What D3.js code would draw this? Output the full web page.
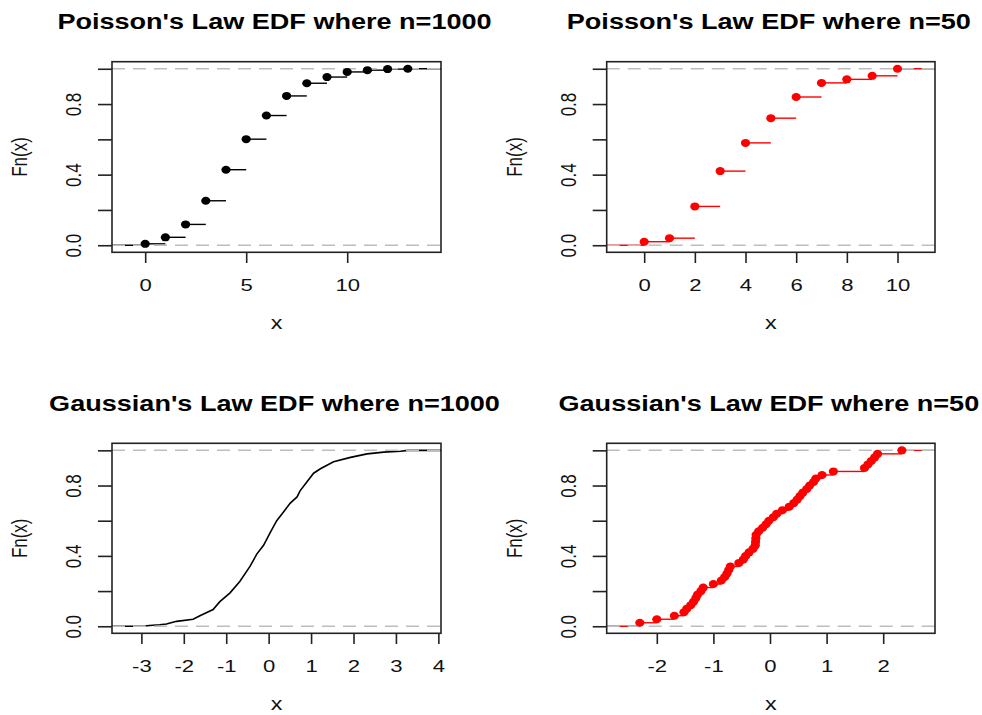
<!DOCTYPE html>
<html><head><meta charset="utf-8">
<script src="https://cdn.jsdelivr.net/npm/d3@7"></script>
<style>body{margin:0;background:#fff}</style>
</head><body>
<svg id="c" width="982" height="715"></svg>
<script>
// ---------------- data ----------------
const poisX1000 = [0,1,2,3,4,5,6,7,8,9,10,11,12,13];
const poisF1000 = [0.008,0.045,0.118,0.252,0.428,0.601,0.735,0.846,0.918,0.953,0.982,0.992,0.998,1.0];

const poisX50 = [0,1,2,3,4,5,6,7,8,9,10];
const poisF50 = [0.02,0.04,0.22,0.42,0.58,0.72,0.84,0.92,0.94,0.96,1.00];

const gaussX1000 = [-2.91,-2.88,-2.57,-2.41,-2.17,-1.78,-1.62,-1.31,-1.15,-0.91,-0.68,-0.44,-0.28,-0.12,0.03,0.19,0.35,0.51,0.67,0.74,0.90,1.06,1.22,1.53,1.93,2.32,2.71,3.11,3.28];
const gaussF1000 = [0.001,0.003,0.009,0.013,0.028,0.040,0.060,0.095,0.140,0.190,0.255,0.340,0.410,0.460,0.530,0.600,0.650,0.700,0.735,0.770,0.820,0.870,0.895,0.935,0.960,0.980,0.990,0.995,1.000];

const gaussX50 = [-2.30,-2.00,-1.69,-1.52,-1.47,-1.40,-1.35,-1.31,-1.28,-1.22,
                  -1.18,-1.00,-0.86,-0.80,-0.76,-0.73,-0.70,-0.55,-0.47,-0.43,
                  -0.37,-0.30,-0.26,-0.255,-0.25,-0.245,-0.20,-0.13,-0.07,-0.02,
                  0.06,0.12,0.22,0.34,0.42,0.48,0.53,0.58,0.65,0.70,
                  0.77,0.81,0.92,1.12,1.67,1.73,1.79,1.85,1.90,2.33];
const gaussF50 = [0.02,0.04,0.06,0.08,0.10,0.12,0.14,0.16,0.18,0.20,
                  0.22,0.24,0.26,0.28,0.30,0.32,0.34,0.36,0.38,0.40,
                  0.42,0.44,0.46,0.48,0.50,0.52,0.54,0.56,0.58,0.60,
                  0.62,0.64,0.66,0.68,0.70,0.72,0.74,0.76,0.78,0.80,
                  0.82,0.84,0.86,0.88,0.90,0.92,0.94,0.96,0.98,1.00];

const titles = ["Poisson's Law EDF where n=1000","Poisson's Law EDF where n=50",
                "Gaussian's Law EDF where n=1000","Gaussian's Law EDF where n=50"];
const xTicks1 = [0,5,10];
const xTicks2 = [0,2,4,6,8,10];
const xTicks3 = [-3,-2,-1,0,1,2,3,4];
const xTicks4 = [-2,-1,0,1,2];
const yTicks = [0,0.2,0.4,0.6,0.8,1.0];
const yLabelled = [0,0.4,0.8];

// ---------------- layout ----------------
const FONT = "'Liberation Sans', Arial, Helvetica, sans-serif";
const cols = [{left:112, right:441},{left:606.7, right:935}];
const rows = [{top:61.7, bottom:252.3},{top:443.3, bottom:633.3}];
const SX = 1.3; // horizontal stretch of the reference

const svg = d3.select('#c');
svg.append('rect').attr('width',982).attr('height',715).attr('fill','#fff');

function rXlim(xs){
  const mn=d3.min(xs), mx=d3.max(xs);
  const diffs=[]; for(let i=1;i<xs.length;i++) diffs.push(xs[i]-xs[i-1]);
  const dr=Math.max(0.08*(mx-mn), d3.median(diffs));
  const lo=mn-dr, hi=mx+dr, e=(hi-lo)*0.04;
  return [lo-e, hi+e];
}

function panel(cfg){
  const {col,row,title,xs,fs,xticks,color,points,linear} = cfg;
  const L=cols[col].left, R=cols[col].right, T=rows[row].top, B=rows[row].bottom;
  const w=R-L, h=B-T;
  const [lo,hi]=rXlim(xs);
  const x=d3.scaleLinear().domain([lo,hi]).range([0,w]);
  const y=d3.scaleLinear().domain([-0.04,1.04]).range([h,0]);
  const g=svg.append('g').attr('transform',`translate(${L},${T})`);

  if(linear){
    const pts=[[lo,0]].concat(xs.map((v,i)=>[v,fs[i]])).concat([[hi,1]]);
    g.append('path').datum(pts)
      .attr('d',d3.line().x(d=>x(d[0])).y(d=>y(d[1])))
      .attr('fill','none').attr('stroke',color).attr('stroke-width',1.6);
  } else {
    const segs=[{x0:lo,x1:xs[0],f:0}].concat(xs.map((v,i)=>({x0:v,x1:i<xs.length-1?xs[i+1]:hi,f:fs[i]})));
    g.selectAll('line.seg').data(segs).enter().append('line').attr('class','seg')
      .attr('x1',d=>x(d.x0)).attr('x2',d=>x(d.x1))
      .attr('y1',d=>y(d.f)).attr('y2',d=>y(d.f))
      .attr('stroke',color).attr('stroke-width',1.4);
  }
  // 0 / 1 reference lines
  g.selectAll('line.ref').data([0,1]).enter().append('line').attr('class','ref')
    .attr('x1',0).attr('x2',w).attr('y1',d=>y(d)).attr('y2',d=>y(d))
    .attr('stroke','#bdbdbd').attr('stroke-width',1.5).attr('stroke-dasharray','13,8');

  if(points){
    g.selectAll('ellipse').data(xs.map((v,i)=>[v,fs[i]])).enter().append('ellipse')
      .attr('cx',d=>x(d[0])).attr('cy',d=>y(d[1]))
      .attr('rx',4.6).attr('ry',4.0).attr('fill',color);
  }
  // box
  g.append('rect').attr('x',0).attr('y',0).attr('width',w).attr('height',h)
    .attr('fill','none').attr('stroke','#222').attr('stroke-width',1.6);

  // x axis
  const xa=g.append('g').attr('transform',`translate(0,${h})`)
    .call(d3.axisBottom(x).tickValues(xticks).tickSize(10.7).tickSizeOuter(0).tickFormat(d=>String(d)));
  xa.select('.domain').remove();
  xa.selectAll('.tick line').attr('stroke','#222').attr('stroke-width',1.6);
  xa.selectAll('.tick text').attr('y',38.4).attr('dy',0)
    .attr('transform',`scale(${SX},1)`)
    .style('font-family',FONT).style('font-size','17px').attr('fill','#111');

  // y axis
  const ya=g.append('g')
    .call(d3.axisLeft(y).tickValues(yTicks).tickSize(14).tickSizeOuter(0)
      .tickFormat(d=>yLabelled.some(v=>Math.abs(v-d)<1e-9)?d3.format('.1f')(d):''));
  ya.select('.domain').remove();
  ya.selectAll('.tick line').attr('stroke','#222').attr('stroke-width',1.6);
  ya.selectAll('.tick text').attr('x',0).attr('y',0).attr('dy',0)
    .attr('text-anchor','middle')
    .attr('transform',`translate(-31,0) scale(${SX},1) rotate(-90)`)
    .style('font-family',FONT).style('font-size','17px').attr('fill','#111');

  // labels
  g.append('text').attr('text-anchor','middle')
    .attr('transform',`translate(${w/2},${h+77}) scale(${SX},1)`)
    .style('font-family',FONT).style('font-size','18px').attr('fill','#111').text('x');
  g.append('text').attr('text-anchor','middle')
    .attr('transform',`translate(-85,${h/2}) scale(${SX},1) rotate(-90)`)
    .style('font-family',FONT).style('font-size','17px').attr('fill','#111').text('Fn(x)');
  g.append('text').attr('text-anchor','middle')
    .attr('transform',`translate(${w/2-2},-32.4) scale(1.23,1)`)
    .style('font-family',FONT).style('font-size','22px').style('font-weight','bold')
    .attr('fill','#000').text(title);
}

panel({col:0,row:0,title:titles[0],xs:poisX1000,fs:poisF1000,xticks:xTicks1,color:'#000',points:true,linear:false});
panel({col:1,row:0,title:titles[1],xs:poisX50,fs:poisF50,xticks:xTicks2,color:'#ff0000',points:true,linear:false});
panel({col:0,row:1,title:titles[2],xs:gaussX1000,fs:gaussF1000,xticks:xTicks3,color:'#000',points:false,linear:true});
panel({col:1,row:1,title:titles[3],xs:gaussX50,fs:gaussF50,xticks:xTicks4,color:'#ff0000',points:true,linear:false});
</script>
</body></html>
